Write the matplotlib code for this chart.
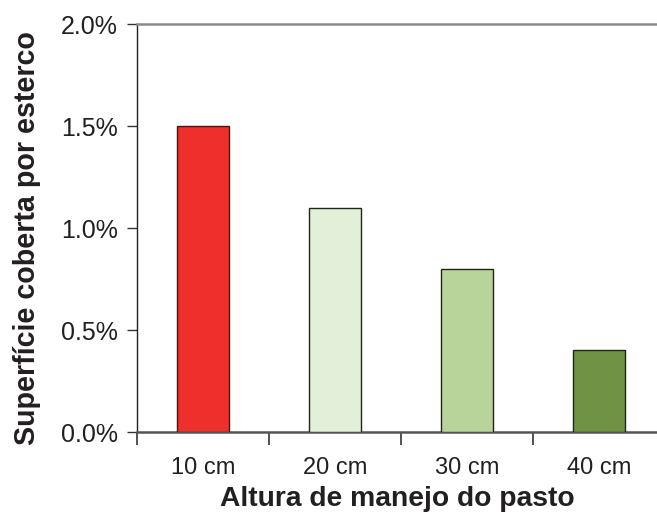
import matplotlib
matplotlib.use("Agg")
import matplotlib.pyplot as plt
from matplotlib.ticker import FuncFormatter, FixedLocator

categories = ["10 cm", "20 cm", "30 cm", "40 cm"]
values = [1.5, 1.1, 0.8, 0.4]
bar_colors = ["#EE2F2C", "#E2EFD9", "#B9D49B", "#709245"]
y_ticks = [0.0, 0.5, 1.0, 1.5, 2.0]

plt.rcParams["font.family"] = ["Liberation Sans", "DejaVu Sans"]

fig = plt.figure(figsize=(6.57, 5.12), dpi=100)
ax_left, ax_bottom_px, ax_top_px = 137, 432, 24
ax = fig.add_axes([ax_left / 657, 1 - ax_bottom_px / 512, 1 - ax_left / 657,
                   (ax_bottom_px - ax_top_px) / 512])

x = list(range(len(categories)))
ax.bar(x, values, width=0.40, color=bar_colors, edgecolor="#222222", linewidth=1.0, zorder=3)

ax.set_ylim(0, 2.0)
ax.set_xlim(-0.5, 3.44)
ax.yaxis.set_major_locator(FixedLocator(y_ticks))
ax.yaxis.set_major_formatter(FuncFormatter(lambda v, p: f"{v:.1f}%"))

ax.set_xticks(x)
ax.set_xticklabels(categories)
ax.xaxis.set_minor_locator(FixedLocator([i - 0.5 for i in x]))
ax.tick_params(axis="x", which="major", length=0, pad=18, labelsize=17, colors="#231F20")
ax.tick_params(axis="x", which="minor", length=9, width=1.2, color="#333333", direction="out")
ax.tick_params(axis="y", length=7, width=1.0, color="#333333", direction="out", pad=7,
               labelsize=18, labelcolor="#231F20")

ax.spines["right"].set_visible(False)
ax.spines["top"].set_color("#8A8A8A")
ax.spines["top"].set_linewidth(1.8)
ax.spines["left"].set_color("#222222")
ax.spines["left"].set_linewidth(1.0)
ax.spines["bottom"].set_color("#555555")
ax.spines["bottom"].set_linewidth(1.8)

ax.set_xlabel("Altura de manejo do pasto", fontsize=20.3, fontweight="bold", color="#231F20", labelpad=5)
ax.set_ylabel("Superfície coberta por esterco", fontsize=20.6, fontweight="bold", color="#231F20")
ax.yaxis.set_label_coords((41 - ax_left) / (657 - ax_left), (ax_bottom_px - 238) / (ax_bottom_px - ax_top_px))

fig.savefig("out.png", dpi=100)
